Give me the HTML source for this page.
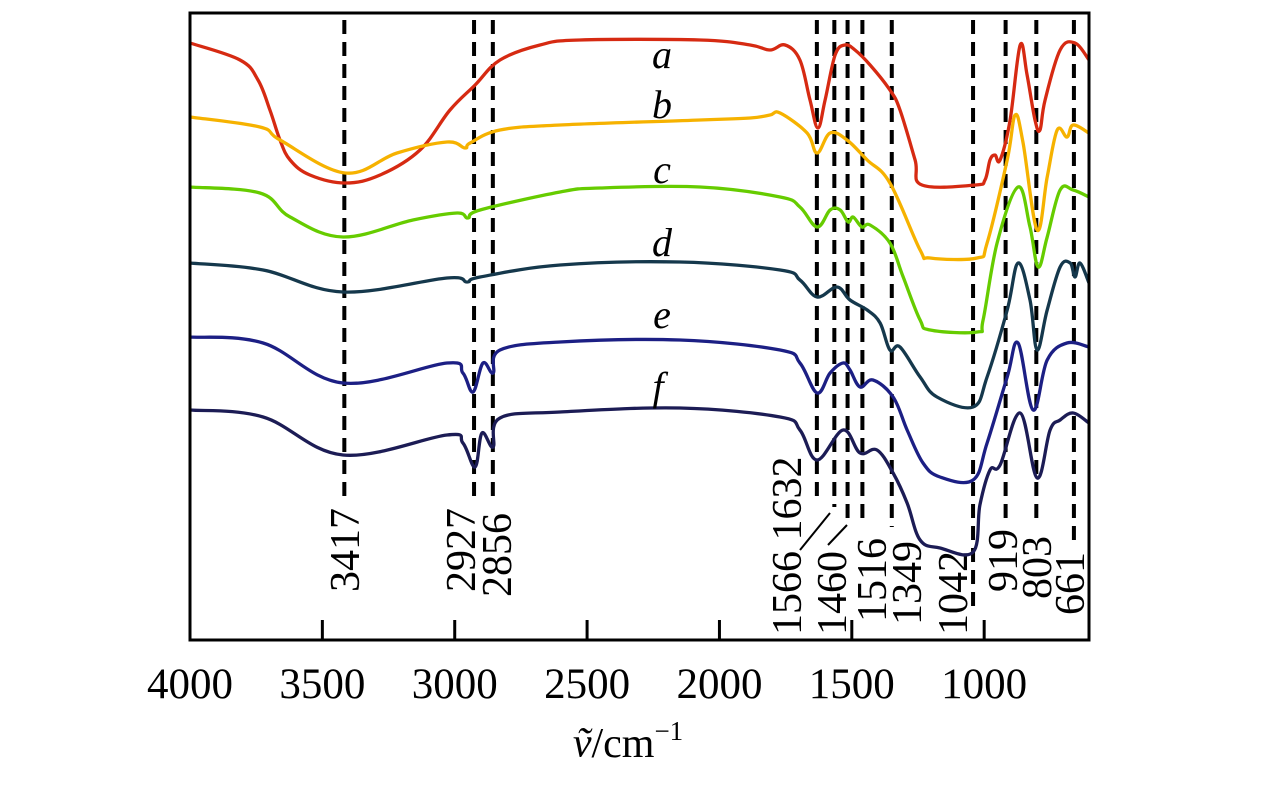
<!DOCTYPE html>
<html><head><meta charset="utf-8"><style>
html,body{margin:0;padding:0;background:#fff}
svg{display:block}
text{font-family:"Liberation Serif",serif;fill:#000}
</style></head><body>
<svg id="chart" width="1276" height="787" viewBox="0 0 1276 787" xmlns="http://www.w3.org/2000/svg">
<g id="peaks"></g>
<g id="series"></g>
<rect x="190" y="13" width="899" height="627" fill="none" stroke="#000" stroke-width="3"/>
<g id="ticks"></g>
<g id="labels"></g>
<line x1="800" y1="550" x2="830" y2="513" stroke="#000" stroke-width="2"/>
<line x1="828" y1="545" x2="847" y2="525" stroke="#000" stroke-width="2"/>
<text x="628" y="757" font-size="42" text-anchor="middle"><tspan font-style="italic">ṽ</tspan>/cm<tspan font-size="27" dy="-17">−1</tspan></text>
</svg>
<script>
const aW=[4000,3811,3743,3698,3660,3622,3547,3414,3282,3131,3018,2923,2829,2678,2527,2073,1884,1809,1752,1696,1658,1628,1601,1563,1526,1488,1431,1356,1318,1261,1235,1034,997,978,959,940,902,864,838,808,789,770,713,657,604];
const aV=[597,580,560,530,500,480,465,457,465,490,530,555,580,595,600,600,595,590,595,580,540,512,540,585,595,590,575,550,530,480,455,455,460,480,485,480,520,595,565,520,510,540,590,597,580];
const bW=[4000,3736,3660,3414,3218,3029,2961,2942,2829,2602,2073,1884,1809,1771,1669,1631,1582,1518,1442,1356,1242,1204,1027,989,913,883,853,800,762,724,687,664,604];
const bV=[523,513,500,467,487,498,492,497,510,515,520,522,525,527,507,487,507,500,480,457,390,382,382,397,480,525,497,410,463,510,503,515,507];
const cW=[4000,3736,3622,3422,3158,2991,2950,2904,2602,2451,2073,1771,1696,1631,1582,1544,1514,1495,1462,1431,1356,1306,1242,1204,1027,1004,951,872,827,796,762,713,664,604];
const cV=[453,447,423,403,420,427,422,430,448,452,453,443,433,413,430,430,418,423,413,415,397,363,320,310,308,320,397,453,413,373,403,450,450,443];
const dW=[4000,3724,3422,3029,2953,2904,2602,2149,1771,1696,1631,1556,1507,1442,1393,1356,1318,1242,1178,1042,989,913,872,827,800,762,713,675,657,638,604];
const dV=[377,370,348,362,358,363,375,378,370,360,343,353,340,330,317,290,293,263,243,233,263,330,377,340,290,330,373,377,363,377,357];
const eW=[4000,3724,3422,3029,2969,2931,2893,2855,2829,2602,2149,1771,1696,1631,1582,1533,1507,1469,1420,1344,1291,1231,1167,1042,989,913,872,815,762,687,604];
const eV=[303,297,257,277,267,248,277,267,290,298,300,290,277,247,267,277,270,253,260,243,210,177,163,160,197,263,297,230,280,297,293];
const fW=[4000,3724,3422,3029,2969,2923,2897,2855,2829,2602,2149,1771,1696,1631,1533,1469,1405,1344,1291,1242,1167,1042,1016,978,940,864,800,751,713,664,604];
const fV=[230,223,185,205,197,173,207,193,222,228,232,223,210,180,210,187,190,167,137,100,92,88,135,170,175,227,162,210,220,227,217];
const peakW=[3417,2927,2856,1632,1566,1516,1460,1349,1042,919,803,661];
const tickW=[4000,3500,3000,2500,2000,1500,1000];
const tickLabels=["4000","3500","3000","2500","2000","1500","1000"];
const curveNames=["a","b","c","d","e","f"];

const NS="http://www.w3.org/2000/svg";
const X0=190,X1=1089,W0=4000,W1=604;
function xs(w){return X0+(W0-w)*(X1-X0)/(W0-W1);}
function ys(v){return 640-v;}
function mk(tag,attrs,parent){const e=document.createElementNS(NS,tag);for(const k in attrs)e.setAttribute(k,attrs[k]);parent.appendChild(e);return e;}
function pathD(ws,vs){
  const p=ws.map((w,i)=>[xs(w),ys(vs[i])]);
  let d="M"+p[0][0].toFixed(1)+","+p[0][1].toFixed(1);
  for(let i=0;i<p.length-1;i++){
    const p0=p[i-1]||p[i],p1=p[i],p2=p[i+1],p3=p[i+2]||p2;
    const t=0.18;
    const c1=[p1[0]+(p2[0]-p0[0])*t,p1[1]+(p2[1]-p0[1])*t];
    const c2=[p2[0]-(p3[0]-p1[0])*t,p2[1]-(p3[1]-p1[1])*t];
    d+="C"+c1[0].toFixed(1)+","+c1[1].toFixed(1)+" "+c2[0].toFixed(1)+","+c2[1].toFixed(1)+" "+p2[0].toFixed(1)+","+p2[1].toFixed(1);
  }
  return d;
}
const series=[[aW,aV,"#d62a12"],[bW,bV,"#f6b200"],[cW,cV,"#66cc00"],[dW,dV,"#15384c"],[eW,eV,"#1c1f84"],[fW,fV,"#1c1c55"]];
const sg=document.getElementById("series");
series.forEach((s,i)=>{
  const el=mk("path",{d:pathD(s[0],s[1]),fill:"none",stroke:s[2],"stroke-width":"3.3","stroke-linejoin":"round"},sg);
  
  
});
const peakEnd=[500,500,500,500,507,518,520,527,607,520,525,547];
const pg=document.getElementById("peaks");
peakW.forEach((w,i)=>{
  const el=mk("line",{x1:xs(w),x2:xs(w),y1:20,y2:peakEnd[i],stroke:"#000","stroke-width":"4","stroke-dasharray":"14 8"},pg);
  
  
});
const peakText=[["3417",345,592],["2927",461,592],["2856",497,597],["1566 1632",787,635],["1460",832,635],["1516",872,622],["1349",907,625],["1042",953,635],["919",1003,592],["803",1037,599],["661",1070,615]];
peakText.forEach(p=>{
  const el=mk("text",{x:0,y:0,"font-size":"42",transform:"translate("+(p[1]+14)+","+p[2]+") rotate(-90)"},pg);
  el.textContent=p[0];
  
  
});
const tg=document.getElementById("ticks");
tickW.forEach((w,i)=>{
  const t=mk("line",{x1:xs(w),x2:xs(w),y1:620,y2:640,stroke:"#000","stroke-width":"3"},tg);
  
  
  const l=mk("text",{x:xs(w),y:698,"font-size":"43","text-anchor":"middle"},tg);
  l.textContent=tickLabels[i];
  
  
});
const labelPos=[[662,68],[662,118],[662,183],[662,256],[662,328],[658,400]];
const lg=document.getElementById("labels");
curveNames.forEach((n,i)=>{
  const el=mk("text",{x:labelPos[i][0],y:labelPos[i][1],"font-size":"40","font-style":"italic","text-anchor":"middle"},lg);
  el.textContent=n;
  
  
});
</script>
</body></html>
